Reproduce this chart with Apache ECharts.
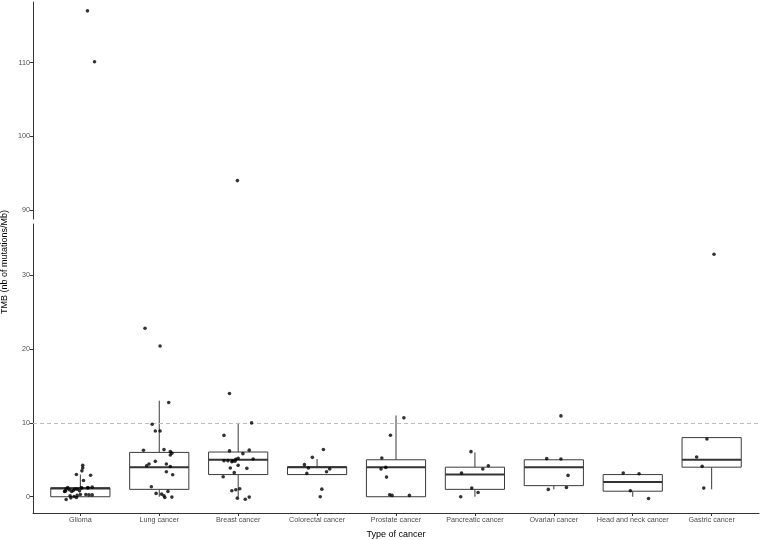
<!DOCTYPE html>
<html>
<head>
<meta charset="utf-8">
<script src="https://cdn.jsdelivr.net/npm/echarts@6/dist/echarts.min.js"></script>
<style>html,body{margin:0;padding:0;background:#fff}#chart{width:760px;height:540px}</style>
</head>
<body>
<div id="chart"></div>
<script>
const categories = ['Glioma','Lung cancer','Breast cancer','Colorectal cancer','Prostate cancer','Pancreatic cancer','Ovarian cancer','Head and neck cancer','Gastric cancer'];

// box statistics per category
const boxMin    = [0,    0,   0,    3.0, 0,   0,   1.0, 0,    1.0];
const boxQ1     = [0,    1.0, 3.0,  3.0, 0,   1.0, 1.5, 0.75, 4.0];
const boxMedian = [1.1,  4.0, 5.0,  4.0, 4.0, 3.0, 4.0, 2.0,  5.0];
const boxQ3     = [1.22, 6.0, 6.05, 4.05,5.0, 4.0, 5.0, 3.0,  8.0];
const boxMax    = [3.0, 13.0, 10.0, 5.1, 11.0,6.0, 5.0, 3.0,  8.0];

// jittered points: [horizontal jitter (category units), TMB value]
const gliomaPts = [[0.03,4.25],[0.03,3.9],[0.02,3.5],[-0.05,3.0],[0.13,2.9],[0.04,2.2],
  [-0.16,1.26],[-0.18,1.03],[-0.14,0.95],[-0.11,0.72],[-0.20,0.72],[-0.07,1.03],[-0.04,1.03],
  [0.01,1.22],[0.02,1.18],[0.10,1.22],[0.15,1.3],[-0.13,0.13],[-0.08,0.04],[-0.04,0.18],
  [0.0,0.31],[0.07,0.31],[0.11,0.25],[0.15,0.25],[-0.18,-0.37],[-0.12,-0.15],[-0.05,-0.1],
  [-0.19,0.75],[-0.01,0.8],[0.09,1.2],[-0.09,0.85],[0.09,117.0],[0.18,110.1]];
const lungPts = [[-0.18,22.8],[0.01,20.4],[0.12,12.75],[-0.09,9.8],[-0.05,8.9],[0.01,8.9],
  [-0.20,6.28],[0.06,6.38],[0.14,6.1],[0.16,5.9],[0.14,5.65],[-0.05,4.79],[-0.13,4.43],
  [-0.16,4.2],[0.09,4.43],[0.14,4.1],[0.09,3.39],[0.17,2.98],[-0.10,1.36],[0.11,0.72],
  [-0.04,0.45],[0.03,0.35],[0.06,0.14],[0.07,-0.1],[0.16,-0.05]];
const breastPts = [[-0.11,13.97],[0.17,9.99],[-0.18,8.3],[-0.11,6.2],[0.14,6.3],[0.06,5.83],
  [0.19,5.1],[-0.18,4.88],[-0.13,4.88],[-0.08,4.75],[-0.04,4.8],[-0.03,5.06],[0.0,5.2],
  [-0.07,4.83],[0.0,4.25],[-0.10,3.88],[0.11,3.84],[-0.05,3.26],[-0.19,2.71],[0.02,1.08],
  [-0.03,0.95],[-0.08,0.81],[-0.01,-0.19],[0.09,-0.33],[0.14,-0.05],[-0.01,94.0]];
const colorectalPts = [[0.08,6.4],[-0.06,5.33],[-0.16,4.34],[-0.11,3.88],[0.16,3.75],[0.12,3.39],[-0.13,3.16],[0.06,1.03],[0.04,0.0]];
const prostatePts = [[0.10,10.67],[-0.07,8.32],[-0.18,5.24],[-0.19,3.75],[-0.13,3.97],[-0.12,2.66],[-0.08,0.27],[-0.05,0.18],[0.17,0.18]];
const pancreaticPts = [[-0.05,6.1],[-0.17,3.2],[0.10,3.75],[0.17,4.2],[-0.04,1.17],[0.04,0.58],[-0.18,0.0]];
const ovarianPts = [[0.09,10.94],[-0.09,5.15],[0.09,5.1],[0.18,2.89],[0.16,1.26],[-0.07,0.99]];
const headNeckPts = [[-0.12,3.2],[0.08,3.12],[-0.03,0.81],[0.20,-0.23]];
const gastricPts = [[0.03,32.8],[-0.06,7.82],[-0.19,5.38],[-0.12,4.11],[-0.10,1.17]];

const yTicksBottom = [0, 10, 20, 30];
const yTicksTop = [90, 100, 110];
const threshold = 10;

const allPts = [gliomaPts, lungPts, breastPts, colorectalPts, prostatePts, pancreaticPts, ovarianPts, headNeckPts, gastricPts];
const scatterData = [];
allPts.forEach((pts, i) => pts.forEach(p => scatterData.push([i + 1 + p[0], p[1]])));
const boxData = categories.map((c, i) => [i + 1, boxMin[i], boxQ1[i], boxMedian[i], boxQ3[i], boxMax[i]]);

const FONT = 'Liberation Sans, Arial, sans-serif';
const axisLineStyle = { color: '#333', width: 1 };
const xPos = categories.map((c, i) => i + 1);

function renderBox(params, api) {
  const x = api.value(0);
  const mn = api.value(1), q1 = api.value(2), md = api.value(3), q3 = api.value(4), mx = api.value(5);
  const w = api.size([0.75, 0])[0];
  const pMin = api.coord([x, mn]), pQ1 = api.coord([x, q1]), pMd = api.coord([x, md]);
  const pQ3 = api.coord([x, q3]), pMax = api.coord([x, mx]);
  const cx = pMd[0];
  const stroke = '#3a3a3a';
  const children = [];
  if (mx > q3) children.push({ type: 'line', shape: { x1: cx, y1: pQ3[1], x2: cx, y2: pMax[1] }, style: { stroke, lineWidth: 1 } });
  if (mn < q1) children.push({ type: 'line', shape: { x1: cx, y1: pQ1[1], x2: cx, y2: pMin[1] }, style: { stroke, lineWidth: 1 } });
  children.push({ type: 'rect', shape: { x: cx - w / 2, y: pQ3[1], width: w, height: pQ1[1] - pQ3[1] }, style: { fill: '#fff', stroke, lineWidth: 1 } });
  children.push({ type: 'line', shape: { x1: cx - w / 2, y1: pMd[1], x2: cx + w / 2, y2: pMd[1] }, style: { stroke: '#333', lineWidth: 2 } });
  return { type: 'group', children };
}

const chart = echarts.init(document.getElementById('chart'), null, { renderer: 'canvas' });
chart.setOption({
  animation: false,
  backgroundColor: '#fff',
  grid: [
    { left: 33, right: 1, top: 2, height: 217, containLabel: false, outerBoundsMode: 'none' },
    { left: 33, right: 1, top: 224, bottom: 27, containLabel: false, outerBoundsMode: 'none' }
  ],
  xAxis: [
    { gridIndex: 0, type: 'value', min: 0.4, max: 9.6, show: false },
    { gridIndex: 1, type: 'value', min: 0.4, max: 9.6,
      name: 'Type of cancer', nameLocation: 'middle', nameGap: 17,
      nameTextStyle: { fontFamily: FONT, fontSize: 9, color: '#000' },
      splitLine: { show: false },
      axisLine: { onZero: false, lineStyle: axisLineStyle },
      axisTick: { customValues: xPos, length: 3, lineStyle: axisLineStyle },
      axisLabel: { customValues: xPos, margin: 4, fontFamily: FONT, fontSize: 7.2, color: '#4d4d4d',
        formatter: v => categories[Math.round(v) - 1] }
    }
  ],
  yAxis: [
    { gridIndex: 0, type: 'value', min: 88.8, max: 118.2,
      splitLine: { show: false },
      axisLine: { show: true, onZero: false, lineStyle: axisLineStyle },
      axisTick: { show: true, customValues: yTicksTop, length: 3, lineStyle: axisLineStyle },
      axisLabel: { customValues: yTicksTop, margin: 3, fontFamily: FONT, fontSize: 7.2, color: '#4d4d4d' }
    },
    { gridIndex: 1, type: 'value', min: -2.2, max: 36.9,
      splitLine: { show: false },
      axisLine: { show: true, onZero: false, lineStyle: axisLineStyle },
      axisTick: { show: true, customValues: yTicksBottom, length: 3, lineStyle: axisLineStyle },
      axisLabel: { customValues: yTicksBottom, margin: 3, fontFamily: FONT, fontSize: 7.2, color: '#4d4d4d' }
    }
  ],
  graphic: [
    { type: 'text', x: 5, y: 262, rotation: Math.PI / 2,
      style: { text: 'TMB (nb of mutations/Mb)', align: 'center', verticalAlign: 'middle', fontFamily: FONT, fontSize: 9, fill: '#000' } }
  ],
  series: [
    { type: 'custom', xAxisIndex: 1, yAxisIndex: 1, data: boxData, renderItem: renderBox, z: 2,
      encode: { x: 0, y: [1, 2, 3, 4, 5] },
      markLine: { silent: true, symbol: 'none', label: { show: false },
        lineStyle: { type: [4, 3], color: '#bdbdbd', width: 1 },
        data: [{ yAxis: threshold }] } },
    { type: 'scatter', xAxisIndex: 1, yAxisIndex: 1, z: 5, symbolSize: 3.6,
      itemStyle: { color: '#000' }, data: scatterData.filter(p => p[1] < 50) },
    { type: 'scatter', xAxisIndex: 0, yAxisIndex: 0, z: 5, symbolSize: 3.6,
      itemStyle: { color: '#000' }, data: scatterData.filter(p => p[1] >= 50) }
  ]
});
</script>
</body>
</html>
